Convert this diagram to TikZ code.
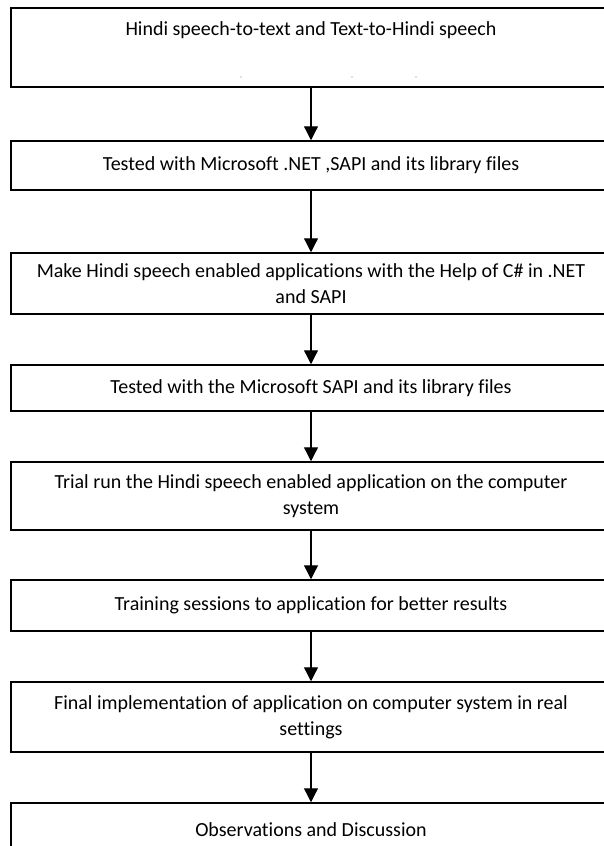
\documentclass[tikz,border=0pt]{standalone}
\usepackage{fontspec}
\setmainfont{Carlito}[Ligatures={NoCommon}]
\usetikzlibrary{arrows.meta}
\begin{document}
\begin{tikzpicture}[x=1pt,y=-1pt,
  box/.style={draw, line width=1.5pt, minimum width=600pt, inner sep=0pt, align=center, font=\fontsize{20}{26}\selectfont},
  lbl/.style={inner sep=0pt, font=\fontsize{20}{26}\selectfont},
  arr/.style={line width=1.3pt, -{Triangle[width=14pt,length=14pt]}}]
\useasboundingbox (0,0) rectangle (603,846);
\fill[white] (0,0) rectangle (603,846);
\node[box, minimum height=79pt] (b1) at (311,47.5) {};
\node[lbl] (t1) at (311,30) {Hindi speech-to-text and Text-to-Hindi speech};
\fill[gray] (241,77) circle (0.6pt) (352,77) circle (0.6pt) (416,77) circle (0.6pt);
\node[box, minimum height=49pt] (b2) at (311,165.5) {Tested with Microsoft .NET ,SAPI and its library files};
\node[box, minimum height=61pt] (b3) at (311,283.5) {Make Hindi speech enabled applications with the Help of C\# in .NET\\and SAPI};
\node[box, minimum height=46pt] (b4) at (311,388) {Tested with the Microsoft SAPI and its library files};
\node[box, minimum height=68pt] (b5) at (311,496) {Trial run the Hindi speech enabled application on the computer\\system};
\node[box, minimum height=51pt] (b6) at (311,605.5) {Training sessions to application for better results};
\node[box, minimum height=70pt] (b7) at (311,717) {Final implementation of application on computer system in real\\settings};
\node[box, minimum height=54pt] (b8) at (311,830) {Observations and Discussion};
\draw[arr] (b1.south) -- (b2.north);
\draw[arr] (b2.south) -- (b3.north);
\draw[arr] (b3.south) -- (b4.north);
\draw[arr] (b4.south) -- (b5.north);
\draw[arr] (b5.south) -- (b6.north);
\draw[arr] (b6.south) -- (b7.north);
\draw[arr] (b7.south) -- (b8.north);
\end{tikzpicture}
\end{document}
